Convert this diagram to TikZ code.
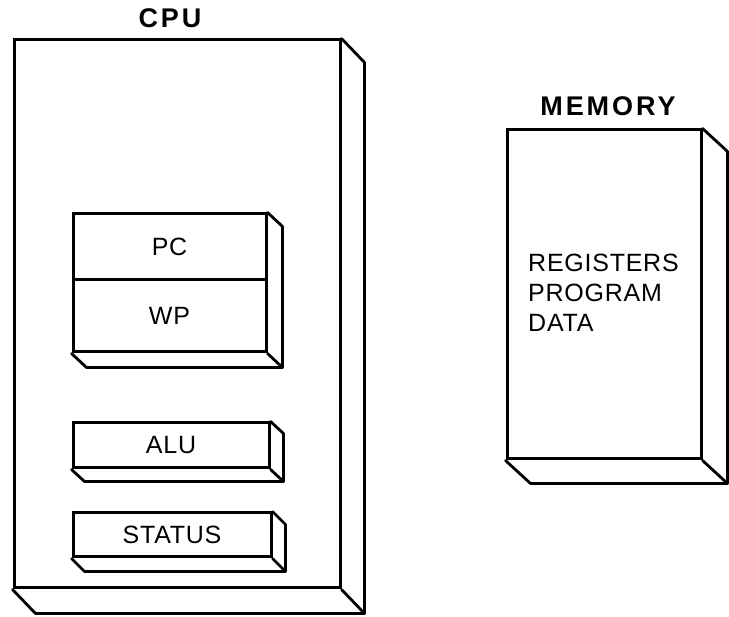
\documentclass[tikz,border=0pt]{standalone}
\usepackage{fontspec}
\setmainfont{Liberation Sans}
\newfontfamily\labelfont[LetterSpace=3]{Liberation Sans}
\newfontfamily\titlefont[LetterSpace=11]{Liberation Sans Bold}
\usetikzlibrary{calc}
\tikzset{
  face/.style={draw, line width=3pt, inner sep=0pt, font=\labelfont\fontsize{25}{29}\selectfont},
  depth/.style={line width=2.8pt, line join=round, line cap=round},
  title/.style={font=\titlefont\fontsize{27}{31}\selectfont},
  memtext/.style={anchor=base west, inner sep=0pt, font=\labelfont\fontsize{25}{29}\selectfont}
}
\newcommand{\extrude}[4]{% top-right node, bottom node, dx, dy
  \draw[depth] (#1.north east) -- ++(#3,#4) -- ($(#2.south east)+(#3,#4)$) -- ($(#2.south west)+(#3,#4)$) -- (#2.south west);
  \draw[depth] (#2.south east) -- ++(#3,#4);
}
\begin{document}
\begin{tikzpicture}[x=1pt,y=-1pt]
\useasboundingbox (0,0) rectangle (729,617);
% CPU
\node[face, minimum width=326pt, minimum height=548pt] (cpu) at (177,314) {};
\extrude{cpu}{cpu}{23}{24}
\node[title] (cputitle) at (170,18) {CPU};
% PC / WP
\node[face, minimum width=193pt, minimum height=66pt] (pc) at (169.5,247) {PC};
\node[face, minimum width=193pt, minimum height=72pt] (wp) at (169.5,316) {WP};
\extrude{pc}{wp}{15}{14}
% ALU
\node[face, minimum width=196pt, minimum height=45pt] (alu) at (171,445.5) {ALU};
\extrude{alu}{alu}{13}{12}
% STATUS
\node[face, minimum width=198pt, minimum height=44pt] (status) at (172,535) {STATUS};
\extrude{status}{status}{13}{13}
% MEMORY
\node[face, minimum width=194pt, minimum height=329pt] (mem) at (604,294.5) {};
\extrude{mem}{mem}{25}{23}
\node[title] (memtitle) at (608,106) {MEMORY};
\node[memtext] (reg) at (528,272) {REGISTERS};
\node[memtext] (prog) at (528,302) {PROGRAM};
\node[memtext] (data) at (528,332) {DATA};
\end{tikzpicture}
\end{document}
